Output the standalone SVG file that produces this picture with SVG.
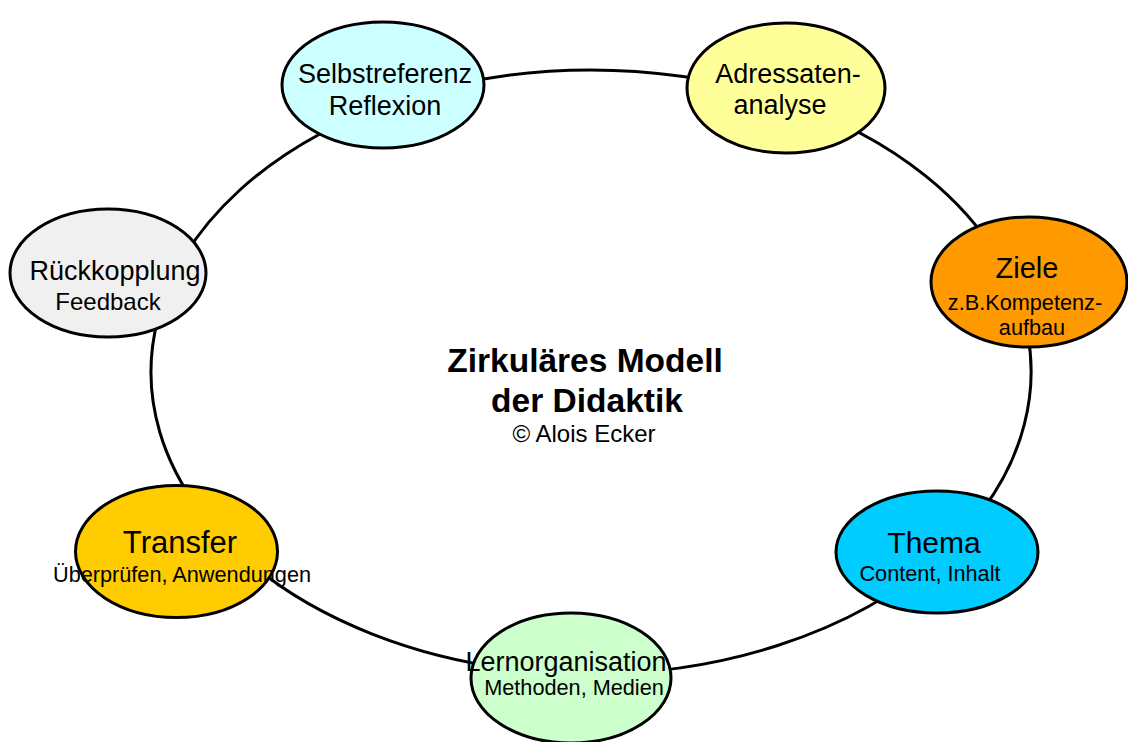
<svg xmlns="http://www.w3.org/2000/svg" width="1128" height="742" viewBox="0 0 1128 742">
  <style>
    .node { stroke: #000; stroke-width: 3; }
    .ring { fill: none; stroke: #000; stroke-width: 3; }
    text { font-family: "Liberation Sans", Arial, sans-serif; fill: #000; text-anchor: middle; }
    .main { font-size: 27px; }
    .big { font-size: 30px; }
    .sub { font-size: 21.7px; }
    .title { font-size: 33.5px; font-weight: bold; }
  </style>
  <rect width="1128" height="742" fill="#fff"/>

  <!-- ring of connectors: arcs of one ellipse, centre (591,372), radii 440 x 302 -->
  <g id="connectors">
    <path class="ring" d="M398.12 100.57 A440 302 0 0 1 783.88 100.57"/>
    <path class="ring" d="M783.88 100.57 A440 302 0 0 1 1011.77 283.70"/>
    <path class="ring" d="M1011.77 283.70 A440 302 0 0 1 942.40 553.75"/>
    <path class="ring" d="M942.40 553.75 A440 302 0 0 1 571.04 673.69"/>
    <path class="ring" d="M571.04 673.69 A440 302 0 0 1 221.99 536.48"/>
    <path class="ring" d="M221.99 536.48 A440 302 0 0 1 157.68 319.56"/>
    <path class="ring" d="M157.68 319.56 A440 302 0 0 1 398.12 100.57"/>
  </g>

  <g id="selbstreferenz">
    <ellipse class="node" cx="383" cy="85" rx="101" ry="63" fill="#ccffff"/>
    <text class="main" x="385" y="83">Selbstreferenz</text>
    <text class="main" x="385" y="115">Reflexion</text>
  </g>

  <g id="adressatenanalyse">
    <ellipse class="node" cx="786" cy="88" rx="99" ry="65" fill="#ffff99"/>
    <text class="main" x="788" y="83">Adressaten-</text>
    <text class="main" x="780" y="114">analyse</text>
  </g>

  <g id="ziele">
    <ellipse class="node" cx="1029" cy="282" rx="98" ry="65" fill="#ff9900"/>
    <text style="font-size:29px" x="1027" y="278">Ziele</text>
    <text class="sub" x="1025" y="310">z.B.Kompetenz-</text>
    <text class="sub" x="1032" y="335">aufbau</text>
  </g>

  <g id="thema">
    <ellipse class="node" cx="937" cy="552" rx="101" ry="61" fill="#00ccff"/>
    <text class="big" x="934" y="553">Thema</text>
    <text class="sub" x="930" y="581">Content, Inhalt</text>
  </g>

  <g id="lernorganisation">
    <ellipse class="node" cx="571" cy="678" rx="100" ry="65" fill="#ccffcc"/>
    <text class="main" x="566" y="671">Lernorganisation</text>
    <text class="sub" x="574" y="695">Methoden, Medien</text>
  </g>

  <g id="transfer">
    <ellipse class="node" cx="176.5" cy="551.5" rx="101" ry="66" fill="#ffcc00"/>
    <text style="font-size:31px" x="180" y="553">Transfer</text>
    <text class="sub" x="182" y="582">Überprüfen, Anwendungen</text>
  </g>

  <g id="rueckkopplung">
    <ellipse class="node" cx="108" cy="273" rx="98" ry="64" fill="#f0f0f0"/>
    <text class="main" x="115" y="280">Rückkopplung</text>
    <text style="font-size:24px" x="108" y="310">Feedback</text>
  </g>

  <g id="title">
    <text class="title" x="585" y="372">Zirkuläres Modell</text>
    <text class="title" x="587" y="412">der Didaktik</text>
    <text style="font-size:24px" x="584" y="442">© Alois Ecker</text>
  </g>
</svg>
